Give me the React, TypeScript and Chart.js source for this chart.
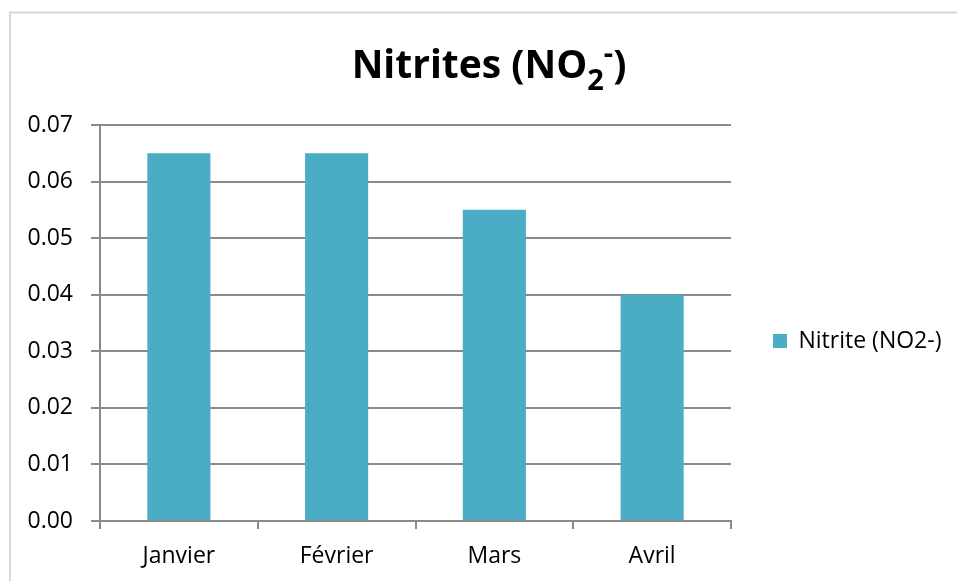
import { useEffect, useRef } from "react";
import { Chart, registerables } from "chart.js";

Chart.register(...registerables);

const categories = ["Janvier", "Février", "Mars", "Avril"];
const nitriteValues = [0.065, 0.065, 0.055, 0.04];
const seriesLabel = "Nitrite (NO2-)";
const yTicks = [0, 0.01, 0.02, 0.03, 0.04, 0.05, 0.06, 0.07];
const titleParts = [
  { text: "Nitrites (NO", kind: "normal" },
  { text: "2", kind: "sub" },
  { text: "-", kind: "sup" },
  { text: ")", kind: "normal" },
];

const FONT = '"Open Sans", "DejaVu Sans", sans-serif';
const AXIS_GRAY = "#8a8a8a";
const BAR_COLOR = "#4BACC6";
const LABEL_SIZE = 23;

const framePlugin = {
  id: "frameTitle",
  beforeDraw(chart: any) {
    const ctx = chart.ctx;
    ctx.save();
    ctx.fillStyle = "#ffffff";
    ctx.fillRect(0, 0, chart.width, chart.height);
    ctx.strokeStyle = "#d9d9d9";
    ctx.lineWidth = 2;
    ctx.beginPath();
    ctx.moveTo(10, chart.height);
    ctx.lineTo(10, 12.5);
    ctx.lineTo(chart.width, 12.5);
    ctx.stroke();
    ctx.restore();
  },
  afterLayout(chart: any) {
    const l = chart.legend;
    if (l) {
      l.top += 18;
      l.bottom += 18;
    }
  },
  afterDraw(chart: any) {
    const ctx = chart.ctx;
    ctx.save();
    const mainFont = `bold 39px ${FONT}`;
    const smallFont = `bold 29px ${FONT}`;
    const measured = titleParts.map((p) => {
      ctx.font = p.kind === "normal" ? mainFont : smallFont;
      return { ...p, w: ctx.measureText(p.text).width };
    });
    const total = measured.reduce((s, p) => s + p.w, 0);
    let x = 489 - total / 2;
    const base = 78;
    ctx.fillStyle = "#000000";
    ctx.textAlign = "left";
    ctx.textBaseline = "alphabetic";
    for (const p of measured) {
      ctx.font = p.kind === "normal" ? mainFont : smallFont;
      const y = p.kind === "sub" ? base + 12 : p.kind === "sup" ? base - 15 : base;
      ctx.fillText(p.text, x, y);
      x += p.w;
    }
    ctx.restore();
  },
};

export default function App() {
  const canvasRef = useRef<HTMLCanvasElement | null>(null);

  useEffect(() => {
    const canvas = canvasRef.current;
    if (!canvas) return;
    const mctx = canvas.getContext("2d")!;
    mctx.font = `${LABEL_SIZE}px ${FONT}`;
    const textW = mctx.measureText(seriesLabel).width;
    const legendPad = 42;
    const boxW = 14;
    const legendW = legendPad + boxW + LABEL_SIZE / 2 + textW + 10;
    const legendSpace = 957 - 731;
    const padRight = Math.max(0, legendSpace - legendW);

    const chart = new Chart(canvas, {
      type: "bar",
      data: {
        labels: categories,
        datasets: [
          {
            label: seriesLabel,
            data: nitriteValues,
            backgroundColor: BAR_COLOR,
            borderWidth: 0,
            categoryPercentage: 1,
            barPercentage: 0.4,
          },
        ],
      },
      options: {
        animation: false,
        responsive: false,
        devicePixelRatio: 1,
        layout: { padding: { top: 125, left: 10, right: padRight, bottom: 0 } },
        font: { family: FONT, size: LABEL_SIZE },
        plugins: {
          title: { display: false },
          tooltip: { enabled: false },
          legend: {
            display: true,
            position: "right",
            fullSize: false,
            maxWidth: legendSpace,
            labels: {
              boxWidth: boxW,
              boxHeight: boxW,
              padding: legendPad,
              color: "#000000",
              font: { family: FONT, size: LABEL_SIZE },
            },
          },
        },
        scales: {
          x: {
            offset: true,
            grid: {
              display: true,
              drawOnChartArea: false,
              drawTicks: true,
              tickLength: 8,
              color: AXIS_GRAY,
              lineWidth: 2,
              offset: true,
            },
            border: { display: true, color: AXIS_GRAY, width: 2 },
            ticks: {
              color: "#000000",
              font: { family: FONT, size: LABEL_SIZE },
              padding: 14,
              maxRotation: 0,
            },
            afterFit(scale: any) {
              scale.height = 60;
            },
          },
          y: {
            min: yTicks[0],
            max: yTicks[yTicks.length - 1],
            grid: {
              color: AXIS_GRAY,
              lineWidth: 2,
              drawTicks: true,
              tickLength: 9,
            },
            border: { display: true, color: AXIS_GRAY, width: 2 },
            ticks: {
              stepSize: yTicks[1] - yTicks[0],
              color: "#000000",
              font: { family: FONT, size: LABEL_SIZE },
              padding: 18,
              callback: (v: any) => Number(v).toFixed(2),
            },
            afterFit(scale: any) {
              scale.width = 90;
            },
          },
        },
      },
      plugins: [framePlugin],
    });
    return () => chart.destroy();
  }, []);

  return (
    <div style={{ position: "fixed", left: 0, top: 0, width: 957, height: 581, background: "#fff" }}>
      <canvas ref={canvasRef} width={957} height={581} style={{ display: "block", width: 957, height: 581 }} />
    </div>
  );
}
